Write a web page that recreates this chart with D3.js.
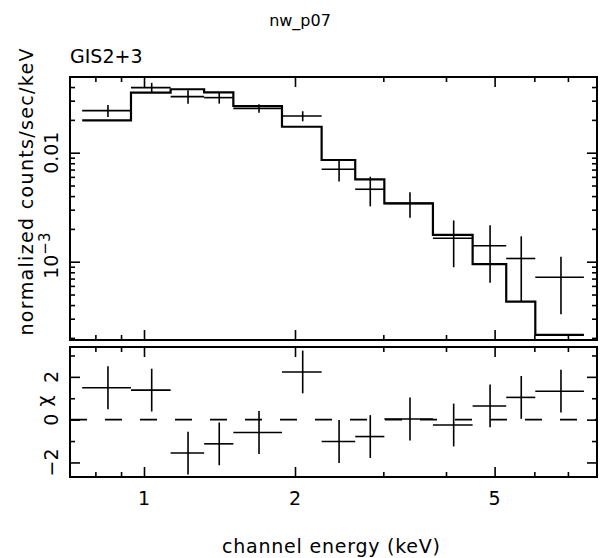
<!DOCTYPE html>
<html>
<head>
<meta charset="utf-8">
<script src="https://cdn.jsdelivr.net/npm/d3@7"></script>
<style>
  html, body { margin: 0; padding: 0; background: #fff; }
  svg { display: block; }
  text { font-family: "DejaVu Sans", sans-serif; fill: #000; }
</style>
</head>
<body>
<svg id="chart" width="600" height="558"></svg>
<script>
// Spectral bins (keV)
const binLo = [0.753, 0.942, 1.130, 1.318, 1.507, 1.884, 2.260, 2.637, 3.014, 3.767, 4.520, 5.274, 6.027];
const binHi = [0.942, 1.130, 1.318, 1.507, 1.884, 2.260, 2.637, 3.014, 3.767, 4.520, 5.274, 6.027, 7.534];
// Normalized counts/sec/keV, with 1-sigma errors
const rate    = [0.0243, 0.0395, 0.0327, 0.0320, 0.0255, 0.0217, 0.00704, 0.00462, 0.00343, 0.00164, 0.00140, 0.00107, 0.00072];
const rateErr = [0.0031, 0.0042, 0.0046, 0.0038, 0.0023, 0.0023, 0.0016, 0.0014, 0.0009, 0.00075, 0.00076, 0.00064, 0.00039];
// Folded model
const model   = [0.0198, 0.0355, 0.0382, 0.0358, 0.0268, 0.0173, 0.00857, 0.00570, 0.00343, 0.00176, 0.00095, 0.00043, 0.000213];
// Residuals in units of sigma
const chi     = [1.49, 1.38, -1.56, -1.13, -0.60, 2.23, -1.02, -0.79, 0.03, -0.25, 0.64, 1.04, 1.33];
const chiErr  = [1, 1, 1, 1, 1, 1, 1, 1, 1, 1, 1, 1, 1];

// Axis ticks
const xMajor = [1, 2, 5];
const xMinor = [0.8, 0.9, 3, 4, 6, 7];
const yMajor = [0.001, 0.01];
const yMinor = [2e-4, 3e-4, 4e-4, 5e-4, 6e-4, 7e-4, 8e-4, 9e-4, 0.002, 0.003, 0.004, 0.005, 0.006, 0.007, 0.008, 0.009, 0.02, 0.03, 0.04];
const rMajor = [-2, 0, 2];
const rMinor = [-1, 1, 3];

const title = "nw_p07";
const tag = "GIS2+3";

const L = 70, R = 597;
const topPanel = { t: 77, b: 340 };
const botPanel = { t: 347, b: 477 };

const svg = d3.select("#chart");

const x = d3.scaleLog().domain([0.712, 8.0]).range([L, R]);
const y = d3.scaleLog().domain([1.913e-4, 0.04947]).range([topPanel.b, topPanel.t]);
const yr = d3.scaleLinear().domain([-2.68, 3.395]).range([botPanel.b, botPanel.t]);

const bins = binLo.map((lo, i) => ({
  lo, hi: binHi[i], mid: (lo + binHi[i]) / 2,
  v: rate[i], e: rateErr[i], m: model[i], c: chi[i], ce: chiErr[i]
}));

const MAJ = 10, MIN = 5;

function axes(yScale, panel, yMaj, yMin) {
  const g = svg.append("g");
  const add = (axisFn, scale, vals, size, tr) => {
    const a = g.append("g").attr("transform", tr)
      .call(axisFn(scale).tickValues(vals).tickSize(size).tickFormat(""));
    a.select(".domain").remove();
    a.selectAll("line").attr("stroke", "#000").attr("stroke-width", 1.6);
  };
  // x ticks on bottom and top, pointing inward
  add(d3.axisBottom, x, xMajor, -MAJ, `translate(0,${panel.b})`);
  add(d3.axisBottom, x, xMinor, -MIN, `translate(0,${panel.b})`);
  add(d3.axisTop, x, xMajor, -MAJ, `translate(0,${panel.t})`);
  add(d3.axisTop, x, xMinor, -MIN, `translate(0,${panel.t})`);
  // y ticks on left and right, pointing inward
  add(d3.axisLeft, yScale, yMaj, -MAJ, `translate(${L},0)`);
  add(d3.axisLeft, yScale, yMin, -MIN, `translate(${L},0)`);
  add(d3.axisRight, yScale, yMaj, -MAJ, `translate(${R},0)`);
  add(d3.axisRight, yScale, yMin, -MIN, `translate(${R},0)`);
  g.append("rect")
    .attr("x", L).attr("y", panel.t)
    .attr("width", R - L).attr("height", panel.b - panel.t)
    .attr("fill", "none").attr("stroke", "#000").attr("stroke-width", 2);
}

// ---- upper panel: data and model ----
const up = svg.append("g");
up.selectAll(".xbar").data(bins).join("line")
  .attr("x1", d => x(d.lo)).attr("x2", d => x(d.hi))
  .attr("y1", d => y(d.v)).attr("y2", d => y(d.v))
  .attr("stroke", "#000").attr("stroke-width", 1.6);
up.selectAll(".ybar").data(bins).join("line")
  .attr("x1", d => x(d.mid)).attr("x2", d => x(d.mid))
  .attr("y1", d => y(d.v + d.e)).attr("y2", d => y(Math.max(d.v - d.e, 1e-6)))
  .attr("stroke", "#000").attr("stroke-width", 1.6);

const stepPts = [];
bins.forEach(d => { stepPts.push([d.lo, d.m]); stepPts.push([d.hi, d.m]); });
up.append("path")
  .attr("d", d3.line().x(p => x(p[0])).y(p => y(p[1]))(stepPts))
  .attr("fill", "none").attr("stroke", "#000").attr("stroke-width", 2.2)
  .attr("stroke-linejoin", "miter");

axes(y, topPanel, yMajor, yMinor);

// ---- lower panel: residuals ----
const lo = svg.append("g");
lo.append("line")
  .attr("x1", L).attr("x2", R).attr("y1", yr(0)).attr("y2", yr(0))
  .attr("stroke", "#000").attr("stroke-width", 1.6)
  .attr("stroke-dasharray", "17,18");
lo.selectAll(".rx").data(bins).join("line")
  .attr("x1", d => x(d.lo)).attr("x2", d => x(d.hi))
  .attr("y1", d => yr(d.c)).attr("y2", d => yr(d.c))
  .attr("stroke", "#000").attr("stroke-width", 1.6);
lo.selectAll(".ry").data(bins).join("line")
  .attr("x1", d => x(d.mid)).attr("x2", d => x(d.mid))
  .attr("y1", d => yr(d.c + d.ce)).attr("y2", d => yr(d.c - d.ce))
  .attr("stroke", "#000").attr("stroke-width", 1.6);

axes(yr, botPanel, rMajor, rMinor);

// ---- labels ----
const FS = 19;
svg.append("text").attr("x", 300).attr("y", 26).attr("text-anchor", "middle")
  .attr("font-size", 16).text(title);
svg.append("text").attr("x", 70).attr("y", 63).attr("font-size", FS).text(tag);

svg.selectAll(".xl").data(xMajor).join("text")
  .attr("x", d => x(d)).attr("y", 505).attr("text-anchor", "middle")
  .attr("font-size", FS).text(d => d);
svg.append("text").attr("x", 331).attr("y", 553).attr("text-anchor", "middle")
  .attr("font-size", FS).attr("textLength", 218).attr("lengthAdjust", "spacing")
  .text("channel energy (keV)");

// y labels, rotated
function vtext(cx, cy, size) {
  return svg.append("text")
    .attr("transform", `translate(${cx},${cy}) rotate(-90)`)
    .attr("text-anchor", "middle").attr("font-size", size);
}
vtext(33, 192, FS).attr("textLength", 287).attr("lengthAdjust", "spacing")
  .text("normalized counts/sec/keV");
vtext(58, y(0.01), FS).text("0.01");
const t3 = vtext(58, y(0.001) - 6, FS);
t3.append("tspan").text("10");
t3.append("tspan").attr("dy", -8).attr("font-size", 15).text("\u22123");

vtext(58, yr(2), FS).text("2");
vtext(58, yr(0), FS).text("0");
vtext(58, yr(-2), FS).text("\u22122");
vtext(51, 401, FS).text("\u03c7");
</script>
</body>
</html>
